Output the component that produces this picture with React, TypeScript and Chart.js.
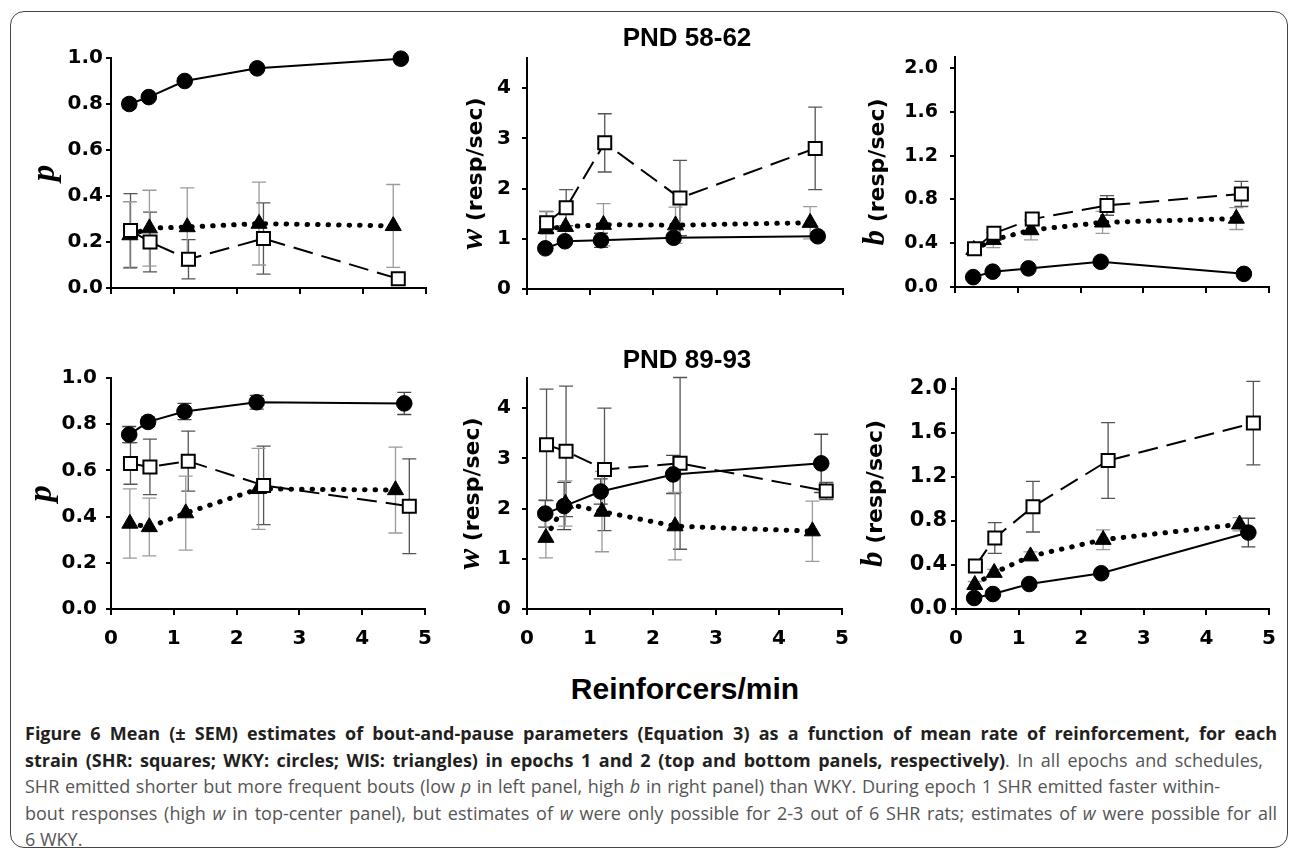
import React, { useEffect, useRef } from "react";
import { Chart, registerables } from "chart.js";

Chart.register(...registerables);

// ---------- tick labels ----------
const X_TICKS = [0, 1, 2, 3, 4, 5];
const P_TICKS = [0, 0.2, 0.4, 0.6, 0.8, 1.0];
const W_TICKS = [0, 1, 2, 3, 4];
const B_TICKS = [0, 0.4, 0.8, 1.2, 1.6, 2.0];

// ---------- Epoch 1 (PND 58-62): reinforcers/min ----------
const E1_X_SHR = [0.31, 0.62, 1.23, 2.42, 4.56];
const E1_X_WKY = [0.29, 0.6, 1.17, 2.32, 4.6];
const E1_X_WIS = [0.3, 0.61, 1.21, 2.35, 4.48];

// p
const E1_P_SHR = [0.25, 0.2, 0.125, 0.215, 0.04];
const E1_P_SHR_SEM = [0.16, 0.13, 0.085, 0.155, 0.0];
const E1_P_WKY = [0.8, 0.83, 0.9, 0.955, 0.997];
const E1_P_WKY_SEM = [0.02, 0.01, 0.01, 0.01, 0.0];
const E1_P_WIS = [0.23, 0.26, 0.265, 0.28, 0.27];
const E1_P_WIS_SEM = [0.145, 0.165, 0.17, 0.18, 0.18];
// w
const E1_W_SHR = [1.32, 1.62, 2.91, 1.81, 2.8];
const E1_W_SHR_SEM = [0.22, 0.36, 0.58, 0.75, 0.82];
const E1_W_WKY = [0.81, 0.95, 0.97, 1.02, 1.05];
const E1_W_WKY_SEM = [0.05, 0.06, 0.14, 0.08, 0.08];
const E1_W_WIS = [1.2, 1.24, 1.28, 1.27, 1.32];
const E1_W_WIS_SEM = [0.35, 0.3, 0.42, 0.36, 0.32];
// b
const E1_B_SHR = [0.35, 0.49, 0.62, 0.745, 0.85];
const E1_B_SHR_SEM = [0.03, 0.04, 0.05, 0.09, 0.115];
const E1_B_WKY = [0.09, 0.14, 0.17, 0.23, 0.12];
const E1_B_WKY_SEM = [0.01, 0.01, 0.01, 0.02, 0.01];
const E1_B_WIS = [0.34, 0.43, 0.52, 0.59, 0.625];
const E1_B_WIS_SEM = [0.04, 0.07, 0.09, 0.1, 0.1];

// ---------- Epoch 2 (PND 89-93): reinforcers/min ----------
const E2_X_SHR = [0.31, 0.62, 1.23, 2.43, 4.75];
const E2_X_WKY = [0.29, 0.59, 1.17, 2.32, 4.67];
const E2_X_WIS = [0.3, 0.61, 1.19, 2.35, 4.53];

// p
const E2_P_SHR = [0.63, 0.615, 0.64, 0.535, 0.445];
const E2_P_SHR_SEM = [0.09, 0.12, 0.13, 0.17, 0.205];
const E2_P_WKY = [0.755, 0.81, 0.855, 0.895, 0.89];
const E2_P_WKY_SEM = [0.035, 0.02, 0.035, 0.03, 0.048];
const E2_P_WIS = [0.37, 0.355, 0.415, 0.52, 0.515];
const E2_P_WIS_SEM = [0.15, 0.125, 0.16, 0.175, 0.186];
// w
const E2_W_SHR = [3.27, 3.14, 2.78, 2.9, 2.35];
const E2_W_SHR_SEM = [1.11, 1.3, 1.22, 1.71, 0.17];
const E2_W_WKY = [1.9, 2.05, 2.34, 2.68, 2.9];
const E2_W_WKY_SEM = [0.27, 0.47, 0.25, 0.38, 0.58];
const E2_W_WIS = [1.42, 2.1, 1.94, 1.65, 1.55];
const E2_W_WIS_SEM = [0.4, 0.45, 0.8, 0.67, 0.6];
// b
const E2_B_SHR = [0.39, 0.645, 0.93, 1.35, 1.69];
const E2_B_SHR_SEM = [0.04, 0.14, 0.23, 0.345, 0.38];
const E2_B_WKY = [0.1, 0.136, 0.227, 0.325, 0.695];
const E2_B_WKY_SEM = [0.01, 0.01, 0.02, 0.02, 0.13];
const E2_B_WIS = [0.22, 0.33, 0.48, 0.63, 0.77];
const E2_B_WIS_SEM = [0.03, 0.03, 0.04, 0.09, 0.06];

// ---------- text ----------
const TITLE_E1 = "PND 58-62";
const TITLE_E2 = "PND 89-93";
const X_TITLE = "Reinforcers/min";

const SANS = '"Liberation Sans", Arial, sans-serif';
const WIDE = '"DejaVu Sans", Verdana, sans-serif';
const SERIF = '"Liberation Serif", "Times New Roman", serif';

type Series = { x: number[]; y: number[]; err: number[] };

const errorBarPlugin = {
  id: "errbars",
  beforeDatasetsDraw(chart: any, _args: any, opts: any) {
    const ctx = chart.ctx;
    const xs = chart.scales.x;
    const ys = chart.scales.y;
    const errs: number[][] = opts.errors || [];
    const colors: string[] = opts.colors || [];
    chart.data.datasets.forEach((ds: any, i: number) => {
      const e = errs[i];
      if (!e) return;
      ctx.save();
      ctx.strokeStyle = colors[i] || "#555";
      ctx.lineWidth = 1.3;
      ds.data.forEach((pt: any, j: number) => {
        const v = e[j];
        if (!v) return;
        const px = xs.getPixelForValue(pt.x);
        const t = ys.getPixelForValue(pt.y + v);
        const b = ys.getPixelForValue(pt.y - v);
        ctx.beginPath();
        ctx.moveTo(px, t);
        ctx.lineTo(px, b);
        ctx.moveTo(px - 7, t);
        ctx.lineTo(px + 7, t);
        ctx.moveTo(px - 7, b);
        ctx.lineTo(px + 7, b);
        ctx.stroke();
      });
      ctx.restore();
    });
  },
};

const yTitlePlugin = {
  id: "ytitle",
  afterDraw(chart: any, _args: any, opts: any) {
    const parts: { text: string; font: string }[] = opts.parts || [];
    if (!parts.length) return;
    const ctx = chart.ctx;
    const area = chart.chartArea;
    ctx.save();
    const cx = area.left + opts.dx;
    const cy = (area.top + area.bottom) / 2 + (opts.dy || 0);
    ctx.translate(cx, cy);
    ctx.rotate(-Math.PI / 2);
    ctx.fillStyle = "#000";
    ctx.textBaseline = "alphabetic";
    ctx.textAlign = "left";
    const widths = parts.map((p) => {
      ctx.font = p.font;
      return ctx.measureText(p.text).width;
    });
    const total = widths.reduce((a, b) => a + b, 0);
    let x = -total / 2;
    parts.forEach((p, k) => {
      ctx.font = p.font;
      ctx.fillText(p.text, x, opts.base || 8);
      x += widths[k];
    });
    ctx.restore();
  },
};

type PanelProps = {
  al: number;
  ar: number;
  at: number;
  ab: number;
  yMax: number;
  yTicks: number[];
  decimals: number;
  showX: boolean;
  shr: Series;
  wky: Series;
  wis: Series;
  titleParts: { text: string; font: string }[];
  titleDx: number;
  tickPad: number;
  tickSize: number;
};

const PAD_L = 100;
const PAD_T = 30;
const PAD_R = 20;
const PAD_B = 50;

function Panel(p: PanelProps) {
  const ref = useRef<HTMLCanvasElement>(null);
  const w = p.ar - p.al + PAD_L + PAD_R;
  const h = p.ab - p.at + PAD_T + PAD_B;
  useEffect(() => {
    if (!ref.current) return;
    const pts = (s: Series) => s.x.map((x, i) => ({ x, y: s.y[i] }));
    const yFont = { family: WIDE, size: p.tickSize, weight: "bold" as const };
    const xFont = { family: WIDE, size: 20, weight: "bold" as const, lineHeight: 1.2 };
    const chart = new Chart(ref.current, {
      type: "scatter",
      data: {
        datasets: [
          {
            label: "WKY",
            data: pts(p.wky),
            showLine: true,
            borderColor: "#000",
            borderWidth: 2,
            pointStyle: "circle",
            pointRadius: 7.8,
            pointBackgroundColor: "#000",
            pointBorderColor: "#000",
            pointBorderWidth: 1,
            clip: false as any,
          },
          {
            label: "SHR",
            data: pts(p.shr),
            showLine: true,
            borderColor: "#000",
            borderWidth: 2,
            borderDash: [20, 9],
            pointStyle: "rect",
            pointRadius: 9.2,
            pointBackgroundColor: "#fff",
            pointBorderColor: "#000",
            pointBorderWidth: 2,
            clip: false as any,
          },
          {
            label: "WIS",
            data: pts(p.wis),
            showLine: true,
            borderColor: "#000",
            borderWidth: 5,
            borderDash: [0.5, 10],
            borderCapStyle: "round",
            pointStyle: "triangle",
            pointRadius: 9.3,
            pointBackgroundColor: "#000",
            pointBorderColor: "#000",
            pointBorderWidth: 1,
            clip: false as any,
          },
        ],
      },
      options: {
        animation: false,
        responsive: false,
        maintainAspectRatio: false,
        layout: { padding: { top: PAD_T, right: PAD_R, left: 0, bottom: 0 } },
        plugins: {
          legend: { display: false },
          tooltip: { enabled: false },
          errbars: {
            errors: [p.wky.err, p.shr.err, p.wis.err],
            colors: ["#444", "#555", "#9a9a9a"],
          },
          ytitle: { parts: p.titleParts, dx: p.titleDx, base: 9 },
        } as any,
        scales: {
          x: {
            type: "linear",
            min: 0,
            max: 5,
            afterBuildTicks: (s: any) => {
              s.ticks = X_TICKS.map((v) => ({ value: v }));
            },
            afterFit: (s: any) => {
              s.height = PAD_B;
            },
            ticks: {
              display: p.showX,
              autoSkip: false,
              maxRotation: 0,
              color: "#000",
              padding: 12,
              font: xFont,
              callback: (v: any) => String(v),
            },
            grid: {
              display: true,
              drawOnChartArea: false,
              drawTicks: true,
              tickLength: 6,
              color: "#000",
              lineWidth: 2,
            },
            border: { display: true, color: "#000", width: 2 },
          },
          y: {
            type: "linear",
            min: 0,
            max: p.yMax,
            afterBuildTicks: (s: any) => {
              s.ticks = p.yTicks.map((v) => ({ value: v }));
            },
            afterFit: (s: any) => {
              s.width = PAD_L;
            },
            ticks: {
              color: "#000",
              padding: p.tickPad,
              font: yFont,
              callback: (v: any) => Number(v).toFixed(p.decimals),
            },
            grid: {
              display: true,
              drawOnChartArea: false,
              drawTicks: true,
              tickLength: 5,
              color: "#000",
              lineWidth: 2,
            },
            border: { display: true, color: "#000", width: 2 },
          },
        },
      },
      plugins: [errorBarPlugin, yTitlePlugin],
    });
    return () => chart.destroy();
  }, []);
  return (
    <canvas
      ref={ref}
      width={w}
      height={h}
      style={{
        position: "absolute",
        left: p.al - PAD_L,
        top: p.at - PAD_T,
        width: w,
        height: h,
      }}
    />
  );
}

const titleP = [{ text: "p", font: `italic bold 33px ${SERIF}` }];
const titleW = [
  { text: "w", font: `italic bold 31px ${SERIF}` },
  { text: " (resp/sec)", font: `bold 22px ${WIDE}` },
];
const titleB = [
  { text: "b", font: `italic bold 31px ${SERIF}` },
  { text: " (resp/sec)", font: `bold 22px ${WIDE}` },
];

const capBold: React.CSSProperties = { fontWeight: 700, color: "#231f20" };

export default function App() {
  const lineStyle = (width: number | null): React.CSSProperties => ({
    whiteSpace: "nowrap",
    width: width === null ? "auto" : width,
    textAlign: width === null ? "left" : "justify",
    textAlignLast: width === null ? "left" : "justify",
    height: 26.5,
  } as React.CSSProperties);
  return (
    <div
      style={{
        position: "fixed",
        left: 0,
        top: 0,
        width: 1290,
        height: 849,
        background: "#fff",
        overflow: "hidden",
      }}
    >
      <div
        style={{
          position: "absolute",
          left: 10,
          top: 11,
          width: 1278,
          height: 837,
          boxSizing: "border-box",
          border: "1.5px solid #444",
          borderRadius: 14,
        }}
      />
      <Panel al={111} ar={426} at={58} ab={288} yMax={1.0} yTicks={P_TICKS} decimals={1} showX={false}
        shr={{ x: E1_X_SHR, y: E1_P_SHR, err: E1_P_SHR_SEM }}
        wky={{ x: E1_X_WKY, y: E1_P_WKY, err: E1_P_WKY_SEM }}
        wis={{ x: E1_X_WIS, y: E1_P_WIS, err: E1_P_WIS_SEM }}
        titleParts={titleP} titleDx={-66} tickPad={3} tickSize={20} />
      <Panel al={527} ar={843} at={58} ab={289} yMax={4.6} yTicks={W_TICKS} decimals={0} showX={false}
        shr={{ x: E1_X_SHR, y: E1_W_SHR, err: E1_W_SHR_SEM }}
        wky={{ x: E1_X_WKY, y: E1_W_WKY, err: E1_W_WKY_SEM }}
        wis={{ x: E1_X_WIS, y: E1_W_WIS, err: E1_W_WIS_SEM }}
        titleParts={titleW} titleDx={-54} tickPad={11} tickSize={20} />
      <Panel al={955} ar={1269} at={57} ab={287} yMax={2.1} yTicks={B_TICKS} decimals={1} showX={false}
        shr={{ x: E1_X_SHR, y: E1_B_SHR, err: E1_B_SHR_SEM }}
        wky={{ x: E1_X_WKY, y: E1_B_WKY, err: E1_B_WKY_SEM }}
        wis={{ x: E1_X_WIS, y: E1_B_WIS, err: E1_B_WIS_SEM }}
        titleParts={titleB} titleDx={-80} tickPad={12} tickSize={19} />
      <Panel al={111} ar={425} at={378} ab={609} yMax={1.0} yTicks={P_TICKS} decimals={1} showX={true}
        shr={{ x: E2_X_SHR, y: E2_P_SHR, err: E2_P_SHR_SEM }}
        wky={{ x: E2_X_WKY, y: E2_P_WKY, err: E2_P_WKY_SEM }}
        wis={{ x: E2_X_WIS, y: E2_P_WIS, err: E2_P_WIS_SEM }}
        titleParts={titleP} titleDx={-69} tickPad={9} tickSize={20} />
      <Panel al={527} ar={842} at={378} ab={609} yMax={4.6} yTicks={W_TICKS} decimals={0} showX={true}
        shr={{ x: E2_X_SHR, y: E2_W_SHR, err: E2_W_SHR_SEM }}
        wky={{ x: E2_X_WKY, y: E2_W_WKY, err: E2_W_WKY_SEM }}
        wis={{ x: E2_X_WIS, y: E2_W_WIS, err: E2_W_WIS_SEM }}
        titleParts={titleW} titleDx={-57} tickPad={11} tickSize={20} />
      <Panel al={956} ar={1269} at={378} ab={609} yMax={2.1} yTicks={B_TICKS} decimals={1} showX={true}
        shr={{ x: E2_X_SHR, y: E2_B_SHR, err: E2_B_SHR_SEM }}
        wky={{ x: E2_X_WKY, y: E2_B_WKY, err: E2_B_WKY_SEM }}
        wis={{ x: E2_X_WIS, y: E2_B_WIS, err: E2_B_WIS_SEM }}
        titleParts={titleB} titleDx={-83} tickPad={4} tickSize={21} />

      <div style={{ position: "absolute", left: 487, width: 400, top: 24, textAlign: "center",
        font: `bold 26px ${SANS}`, lineHeight: "26px", color: "#000" }}>{TITLE_E1}</div>
      <div style={{ position: "absolute", left: 487, width: 400, top: 346, textAlign: "center",
        font: `bold 26px ${SANS}`, lineHeight: "26px", color: "#000" }}>{TITLE_E2}</div>
      <div style={{ position: "absolute", left: 385, width: 600, top: 674, textAlign: "center",
        font: `bold 30px ${SANS}`, lineHeight: "30px", color: "#000" }}>{X_TITLE}</div>

      <div
        style={{
          position: "absolute",
          left: 25,
          top: 720,
          fontFamily: '"Open Sans", sans-serif',
          fontSize: 18,
          lineHeight: "26.5px",
          color: "#555",
        }}
      >
        <div style={lineStyle(1252)}>
          <span style={capBold}>
            Figure 6 Mean (± SEM) estimates of bout-and-pause parameters (Equation 3) as a function of mean rate of reinforcement, for each
          </span>
        </div>
        <div style={lineStyle(1238)}>
          <span style={capBold}>
            strain (SHR: squares; WKY: circles; WIS: triangles) in epochs 1 and 2 (top and bottom panels, respectively)
          </span>
          . In all epochs and schedules,
        </div>
        <div style={lineStyle(1195)}>
          SHR emitted shorter but more frequent bouts (low <i>p</i> in left panel, high <i>b</i> in right panel) than WKY. During epoch 1 SHR emitted faster within-
        </div>
        <div style={lineStyle(1252)}>
          bout responses (high <i>w</i> in top-center panel), but estimates of <i>w</i> were only possible for 2-3 out of 6 SHR rats; estimates of <i>w</i> were possible for all
        </div>
        <div style={lineStyle(null)}>6 WKY.</div>
      </div>
    </div>
  );
}
